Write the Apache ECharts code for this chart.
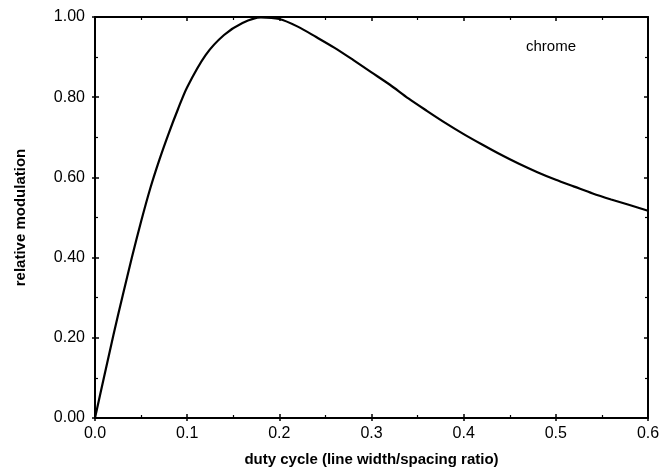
<!DOCTYPE html>
<html>
<head>
<meta charset="utf-8">
<script src="https://cdn.jsdelivr.net/npm/echarts@6/dist/echarts.min.js"></script>
<style>
  html, body { margin: 0; padding: 0; background: #fff; }
  #chart { width: 671px; height: 472px; }
</style>
</head>
<body>
<div id="chart"></div>
<script>
// duty cycle (x) and relative modulation (y)
var dutyCycle = [0, 0.01, 0.02, 0.03, 0.04, 0.05, 0.06, 0.07, 0.08, 0.09, 0.10,
  0.12, 0.14, 0.16, 0.18, 0.20, 0.22, 0.24, 0.26, 0.28, 0.30,
  0.32, 0.34, 0.36, 0.38, 0.40, 0.42, 0.44, 0.46, 0.48, 0.50,
  0.52, 0.54, 0.56, 0.58, 0.60];
var modulation = [0, 0.104, 0.207, 0.305, 0.40, 0.49, 0.573, 0.645, 0.71, 0.77, 0.825,
  0.905, 0.955, 0.985, 0.999, 0.995, 0.976, 0.950, 0.923, 0.893, 0.862,
  0.831, 0.797, 0.766, 0.736, 0.708, 0.682, 0.657, 0.634, 0.613, 0.594,
  0.577, 0.560, 0.545, 0.531, 0.517];
var seriesLabel = 'chrome';
var xTitle = 'duty cycle (line width/spacing ratio)';
var yTitle = 'relative modulation';

var font = '"Liberation Sans", Arial, sans-serif';
var line = { show: true, onZero: false, lineStyle: { color: '#000', width: 2 } };

var chart = echarts.init(document.getElementById('chart'));

// extra unlabelled axes, only there for the inside / minor ticks and the frame
function plainX(pos) {
  return {
    type: 'value', min: 0, max: 0.6, interval: 0.1, position: pos,
    axisLine: line,
    axisTick: { show: true, inside: true, length: 4, lineStyle: { color: '#000', width: 1.5 } },
    minorTick: { show: true, splitNumber: 2, length: 3, lineStyle: { color: '#000', width: 1.2 } },
    axisLabel: { show: false }, splitLine: { show: false }
  };
}
function plainY(pos) {
  return {
    type: 'value', min: 0, max: 1, interval: 0.2, position: pos,
    axisLine: line,
    axisTick: { show: true, inside: true, length: 4, lineStyle: { color: '#000', width: 1.5 } },
    minorTick: { show: true, splitNumber: 2, length: 3, lineStyle: { color: '#000', width: 1.2 } },
    axisLabel: { show: false }, splitLine: { show: false }
  };
}

chart.setOption({
  animation: false,
  backgroundColor: '#fff',
  grid: { left: 95, right: 23, top: 17, bottom: 53 },
  xAxis: [{
    type: 'value', min: 0, max: 0.6, interval: 0.1, position: 'bottom',
    name: xTitle, nameLocation: 'middle', nameGap: 34,
    nameTextStyle: { fontFamily: font, fontWeight: 'bold', fontSize: 15, color: '#000' },
    axisLine: line,
    axisTick: { show: true, length: 3, lineStyle: { color: '#000', width: 1.5 } },
    axisLabel: {
      fontFamily: font, fontSize: 16, color: '#000', margin: 8,
      formatter: function (v) { return v.toFixed(1); }
    },
    splitLine: { show: false }
  }, plainX('bottom'), plainX('top')],
  yAxis: [{
    type: 'value', min: 0, max: 1, interval: 0.2, position: 'left',
    name: yTitle, nameLocation: 'middle', nameGap: 67,
    nameTextStyle: { fontFamily: font, fontWeight: 'bold', fontSize: 15, color: '#000' },
    axisLine: line,
    axisTick: { show: true, length: 3, lineStyle: { color: '#000', width: 1.5 } },
    axisLabel: {
      fontFamily: font, fontSize: 16, color: '#000', margin: 10,
      formatter: function (v) { return v.toFixed(2); }
    },
    splitLine: { show: false }
  }, plainY('left'), plainY('right')],
  graphic: [{
    type: 'text', left: 526, top: 39,
    style: { text: seriesLabel, fontFamily: font, fontSize: 15, fill: '#000' }
  }],
  series: [{
    type: 'line', name: seriesLabel,
    xAxisIndex: 0, yAxisIndex: 0,
    data: dutyCycle.map(function (x, i) { return [x, modulation[i]]; }),
    smooth: 0.3, showSymbol: false,
    lineStyle: { color: '#000', width: 2.2 }
  }]
});
</script>
</body>
</html>
